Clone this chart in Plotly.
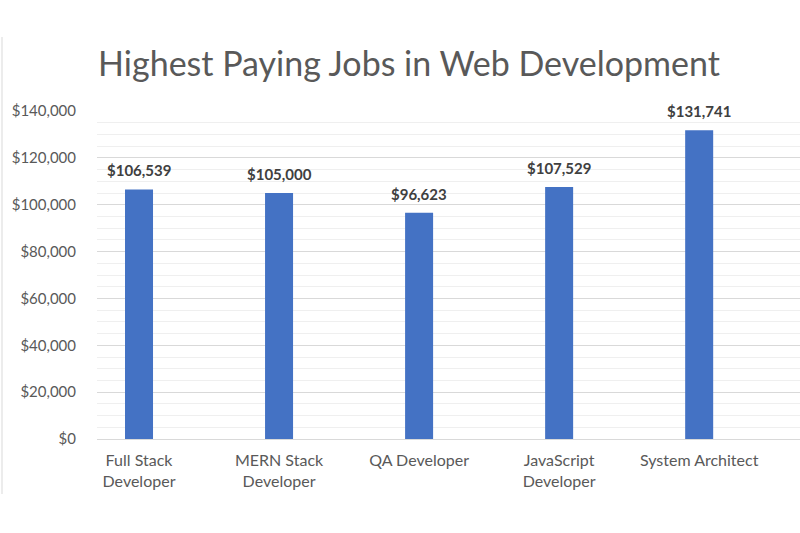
import plotly.graph_objects as go

jobs = ["Full Stack<br>Developer", "MERN Stack<br>Developer", "QA Developer",
        "JavaScript<br>Developer", "System Architect"]
salaries = [106539, 105000, 96623, 107529, 131741]
y_ticks = [0, 20000, 40000, 60000, 80000, 100000, 120000, 140000]
y_tick_labels = ["$" + format(v, ",") for v in y_ticks]

fig = go.Figure()
fig.add_trace(go.Bar(
    x=jobs,
    y=salaries,
    width=0.2,
    marker=dict(color="#4472C4", line=dict(width=0)),
    hoverinfo="skip",
))

# data labels sit a bit higher above the bars than plotly's outside text
for job, val in zip(jobs, salaries):
    fig.add_annotation(
        x=job, y=val, text="$" + format(val, ","),
        showarrow=False, yanchor="bottom", yshift=8,
        font=dict(family="Lato", size=15, color="#404040", weight="bold"),
    )

fig.update_layout(
    width=800,
    height=533,
    paper_bgcolor="white",
    plot_bgcolor="white",
    margin=dict(l=97, r=0, t=111, b=94),
    showlegend=False,
    font=dict(family="Lato", color="#595959"),
    title=dict(
        text="Highest Paying Jobs in Web Development",
        x=409 / 800, xanchor="center",
        y=1 - 64 / 533, yanchor="middle",
        font=dict(family="Lato", size=34, color="#595959"),
    ),
    xaxis=dict(
        range=[-0.3, 4.72],
        showgrid=False,
        showline=False,
        ticks="",
        ticklabelstandoff=10,
        tickfont=dict(family="Lato", size=16, color="#595959"),
    ),
    yaxis=dict(
        range=[0, 140000],
        tickvals=y_ticks,
        ticktext=y_tick_labels,
        showgrid=True,
        gridcolor="#d9d9d9",
        gridwidth=1,
        minor=dict(dtick=5000, showgrid=True, gridcolor="#efefef", gridwidth=1),
        zeroline=True,
        zerolinecolor="#d9d9d9",
        zerolinewidth=1,
        showline=False,
        ticks="",
        ticklabelstandoff=20,
        tickfont=dict(family="Lato", size=15, color="#595959"),
    ),
    shapes=[dict(
        type="line", xref="paper", yref="paper",
        x0=-95 / 703, x1=-95 / 703,
        y0=(533 - 94 - 494) / 328, y1=(533 - 94 - 37) / 328,
        line=dict(color="#d9d9d9", width=1),
    )],
)

fig.write_html("out.html", config={"displayModeBar": False},
               post_script="document.body.style.margin='0';")
